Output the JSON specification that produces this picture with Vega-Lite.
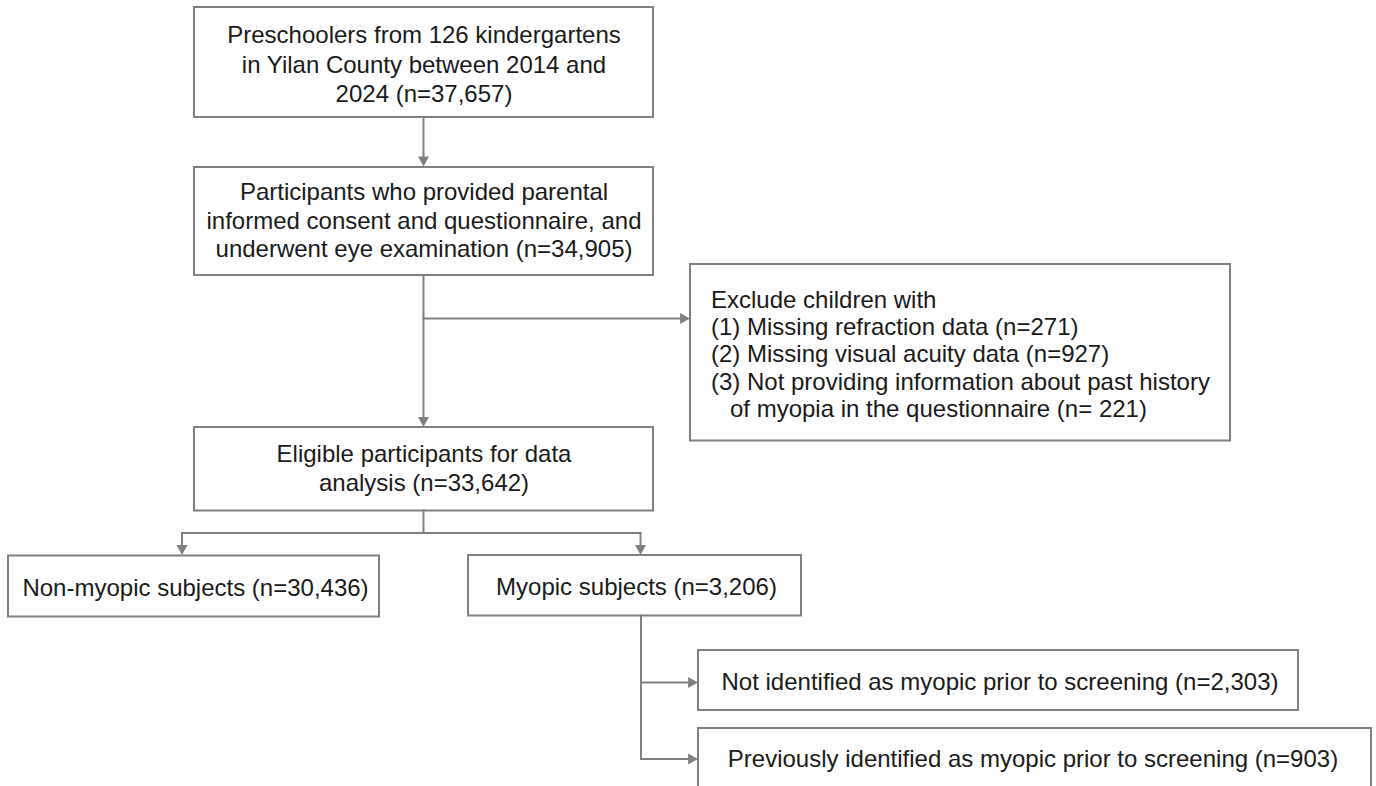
{
  "$schema": "https://vega.github.io/schema/vega-lite/v6.json",
  "width": 1376,
  "height": 786,
  "autosize": {"type": "fit", "contains": "padding"},
  "padding": 0,
  "background": "white",
  "config": {"view": {"stroke": null}},
  "datasets": {
    "boxes": [
      {"id": "source", "x": 194, "x2": 653, "y": 7, "y2": 117},
      {"id": "consent", "x": 194, "x2": 653, "y": 167, "y2": 275},
      {"id": "excluded", "x": 690, "x2": 1230, "y": 264, "y2": 440.5},
      {"id": "eligible", "x": 194, "x2": 653, "y": 427, "y2": 510.5},
      {"id": "nonmyopic", "x": 8, "x2": 379, "y": 555.5, "y2": 616.5},
      {"id": "myopic", "x": 468, "x2": 801, "y": 555, "y2": 615.5},
      {"id": "notidentified", "x": 698, "x2": 1298, "y": 650, "y2": 710},
      {"id": "previously", "x": 698, "x2": 1371, "y": 728, "y2": 790}
    ],
    "connectors": [
      {"x": 423.5, "x2": 423.5, "y": 117, "y2": 159},
      {"x": 423.5, "x2": 423.5, "y": 275, "y2": 420},
      {"x": 423.5, "x2": 683, "y": 318.5, "y2": 318.5},
      {"x": 423.5, "x2": 423.5, "y": 510.5, "y2": 533},
      {"x": 182, "x2": 640.5, "y": 533, "y2": 533},
      {"x": 182, "x2": 182, "y": 533, "y2": 547},
      {"x": 640.5, "x2": 640.5, "y": 533, "y2": 547},
      {"x": 641, "x2": 641, "y": 615.5, "y2": 759},
      {"x": 641, "x2": 691, "y": 682.5, "y2": 682.5},
      {"x": 641, "x2": 691, "y": 759, "y2": 759}
    ],
    "arrowheads": [
      {"x": 423.5, "y": 166.5, "dir": "down"},
      {"x": 690, "y": 318.5, "dir": "right"},
      {"x": 423.5, "y": 427, "dir": "down"},
      {"x": 182, "y": 555, "dir": "down"},
      {"x": 640.5, "y": 555, "dir": "down"},
      {"x": 698, "y": 682.5, "dir": "right"},
      {"x": 698, "y": 759, "dir": "right"}
    ],
    "centered": [
      {"x": 424, "y": 43, "text": "Preschoolers from 126 kindergartens"},
      {"x": 424, "y": 73, "text": "in Yilan County between 2014 and"},
      {"x": 424, "y": 102, "text": "2024 (n=37,657)"},
      {"x": 424, "y": 200, "text": "Participants who provided parental"},
      {"x": 424, "y": 228.5, "text": "informed consent and questionnaire, and"},
      {"x": 424, "y": 257, "text": "underwent eye examination (n=34,905)"},
      {"x": 424, "y": 461.5, "text": "Eligible participants for data"},
      {"x": 424, "y": 491, "text": "analysis (n=33,642)"},
      {"x": 195.5, "y": 596, "text": "Non-myopic subjects (n=30,436)"},
      {"x": 636.5, "y": 595, "text": "Myopic subjects (n=3,206)"},
      {"x": 1000, "y": 690, "text": "Not identified as myopic prior to screening (n=2,303)"},
      {"x": 1033, "y": 766.5, "text": "Previously identified as myopic prior to screening (n=903)"}
    ],
    "leftaligned": [
      {"x": 711, "y": 308, "text": "Exclude children with"},
      {"x": 711, "y": 335, "text": "(1) Missing refraction data (n=271)"},
      {"x": 711, "y": 362, "text": "(2) Missing visual acuity data (n=927)"},
      {"x": 711, "y": 389.5, "text": "(3) Not providing information about past history"},
      {"x": 730, "y": 417, "text": "of myopia in the questionnaire (n= 221)"}
    ]
  },
  "layer": [
    {
      "data": {"name": "boxes"},
      "mark": {"type": "rect", "fill": "white", "stroke": "#808080", "strokeWidth": 2, "clip": true},
      "encoding": {
        "x": {"field": "x", "type": "quantitative", "scale": {"domain": [0, 1376], "range": [0, 1376], "zero": false, "nice": false}, "axis": null},
        "x2": {"field": "x2"},
        "y": {"field": "y", "type": "quantitative", "scale": {"domain": [0, 786], "range": [0, 786], "zero": false, "nice": false}, "axis": null},
        "y2": {"field": "y2"}
      }
    },
    {
      "data": {"name": "connectors"},
      "mark": {"type": "rule", "color": "#808080", "strokeWidth": 2, "strokeCap": "square"},
      "encoding": {
        "x": {"field": "x", "type": "quantitative", "axis": null},
        "x2": {"field": "x2"},
        "y": {"field": "y", "type": "quantitative", "axis": null},
        "y2": {"field": "y2"}
      }
    },
    {
      "data": {"name": "arrowheads"},
      "mark": {"type": "point", "filled": true, "opacity": 1, "size": 121, "color": "#808080", "strokeWidth": 0},
      "encoding": {
        "x": {"field": "x", "type": "quantitative", "axis": null},
        "y": {"field": "y", "type": "quantitative", "axis": null},
        "shape": {"field": "dir", "type": "nominal", "scale": {"domain": ["down", "right"], "range": ["M-1,-1.8L1,-1.8L0,0Z", "M-1.8,-1L-1.8,1L0,0Z"]}, "legend": null}
      }
    },
    {
      "data": {"name": "centered"},
      "mark": {"type": "text", "font": "Liberation Sans", "fontSize": 24, "align": "center", "baseline": "alphabetic", "color": "#1a1a1a"},
      "encoding": {
        "x": {"field": "x", "type": "quantitative", "axis": null},
        "y": {"field": "y", "type": "quantitative", "axis": null},
        "text": {"field": "text", "type": "nominal"}
      }
    },
    {
      "data": {"name": "leftaligned"},
      "mark": {"type": "text", "font": "Liberation Sans", "fontSize": 24, "align": "left", "baseline": "alphabetic", "color": "#1a1a1a"},
      "encoding": {
        "x": {"field": "x", "type": "quantitative", "axis": null},
        "y": {"field": "y", "type": "quantitative", "axis": null},
        "text": {"field": "text", "type": "nominal"}
      }
    }
  ]
}
